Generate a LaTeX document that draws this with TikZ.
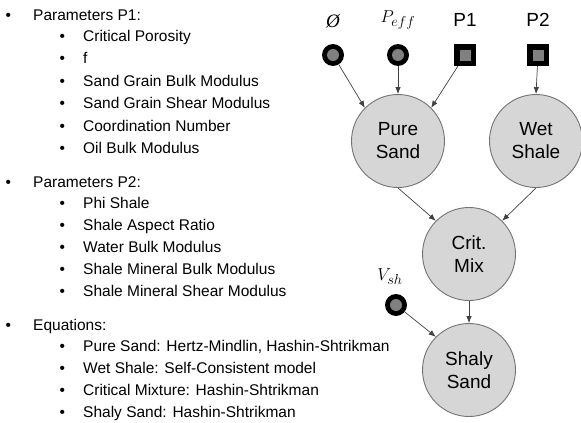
\documentclass[tikz,border=0pt]{standalone}
\usepackage{amssymb}
\usepackage{fontspec}
\setmainfont{Liberation Sans}
\usetikzlibrary{arrows.meta}
\begin{document}
\begin{tikzpicture}[x=1pt,y=-1pt,
  big/.style={circle, draw=black!55, fill=black!16, line width=0.9pt, minimum size=93pt, inner sep=0, align=center, font=\fontsize{19}{23}\selectfont},
  incirc/.style={circle, fill=black, minimum size=22pt, inner sep=0, path picture={\fill[black!50] (path picture bounding box.center) circle (6pt);}},
  insq/.style={rectangle, fill=black, minimum size=22pt, inner sep=0, path picture={\fill[black!50] ([shift={(-5.5pt,-5.5pt)}]path picture bounding box.center) rectangle ++(11pt,11pt);}},
  lab/.style={inner sep=0, font=\fontsize{19}{23}\selectfont},
  lone/.style={anchor=base west, inner sep=0, font=\fontsize{15.5}{18}\selectfont},
  arr/.style={draw=black!75, line width=0.7pt, -{Latex[length=7pt,width=5.5pt]}}
]
\useasboundingbox (0,0) rectangle (581,423);
\newcommand{\bA}{\makebox[27.7pt][l]{•}}
\newcommand{\bB}{\makebox[23.7pt][l]{•}}
% text list
\node[lone] (t1) at (5.3,20.5) {\bA Parameters P1:};
\node[lone] (t2) at (59.3,41.5) {\bB Critical Porosity};
\node[lone] (t3) at (59.3,63.9) {\bB f};
\node[lone] (t4) at (59.3,86.3) {\bB Sand Grain Bulk Modulus};
\node[lone] (t5) at (59.3,108.7) {\bB Sand Grain Shear Modulus};
\node[lone] (t6) at (59.3,131.1) {\bB Coordination Number};
\node[lone] (t7) at (59.3,153.5) {\bB Oil Bulk Modulus};
\node[lone] (t8) at (5.3,187.5) {\bA Parameters P2:};
\node[lone] (t9) at (59.3,208.5) {\bB Phi Shale};
\node[lone] (t10) at (59.3,230.5) {\bB Shale Aspect Ratio};
\node[lone] (t11) at (59.3,252.5) {\bB Water Bulk Modulus};
\node[lone] (t12) at (59.3,274.5) {\bB Shale Mineral Bulk Modulus};
\node[lone] (t13) at (59.3,296.5) {\bB Shale Mineral Shear Modulus};
\node[lone] (t14) at (5.3,330.5) {\bA Equations:};
\node[lone] (t15) at (59.3,351.5) {\bB Pure Sand: Hertz-Mindlin, Hashin-Shtrikman};
\node[lone] (t16) at (59.3,373.5) {\bB Wet Shale: Self-Consistent model};
\node[lone] (t17) at (59.3,395.5) {\bB Critical Mixture: Hashin-Shtrikman};
\node[lone] (t18) at (59.3,417.5) {\bB Shaly Sand: Hashin-Shtrikman};
% graph
\node[big] (ps) at (398,141) {Pure\\Sand};
\node[big] (ws) at (536,141) {Wet\\Shale};
\node[big] (cm) at (469,254) {Crit.\\Mix};
\node[big] (ss) at (469,370) {Shaly\\Sand};
\node[incirc] (phi) at (333,55) {};
\node[incirc] (peff) at (398,55) {};
\node[insq] (p1) at (465,55) {};
\node[insq] (p2) at (538,55) {};
\node[incirc] (vsh) at (396,305) {};
\node[lab] (lphi) at (333,21) {\fontspec{Liberation Serif}\itshape Ø};
\node[lab] (lpeff) at (398,20) {$P_{eff}$};
\node[lab] (lp1) at (465,20) {P1};
\node[lab] (lp2) at (538,20) {P2};
\node[lab] (lvsh) at (390,277) {$V_{sh}$};
\draw[arr] (phi) -- (ps.135);
\draw[arr] (peff) -- (ps.north);
\draw[arr] (p1) -- (ps.45);
\draw[arr] (p2) -- (ws.north);
\draw[arr] (ps.south) -- (cm.135);
\draw[arr] (ws.south) -- (cm.45);
\draw[arr] (cm.south) -- (ss.north);
\draw[arr] (vsh) -- (ss.135);
\end{tikzpicture}
\end{document}
